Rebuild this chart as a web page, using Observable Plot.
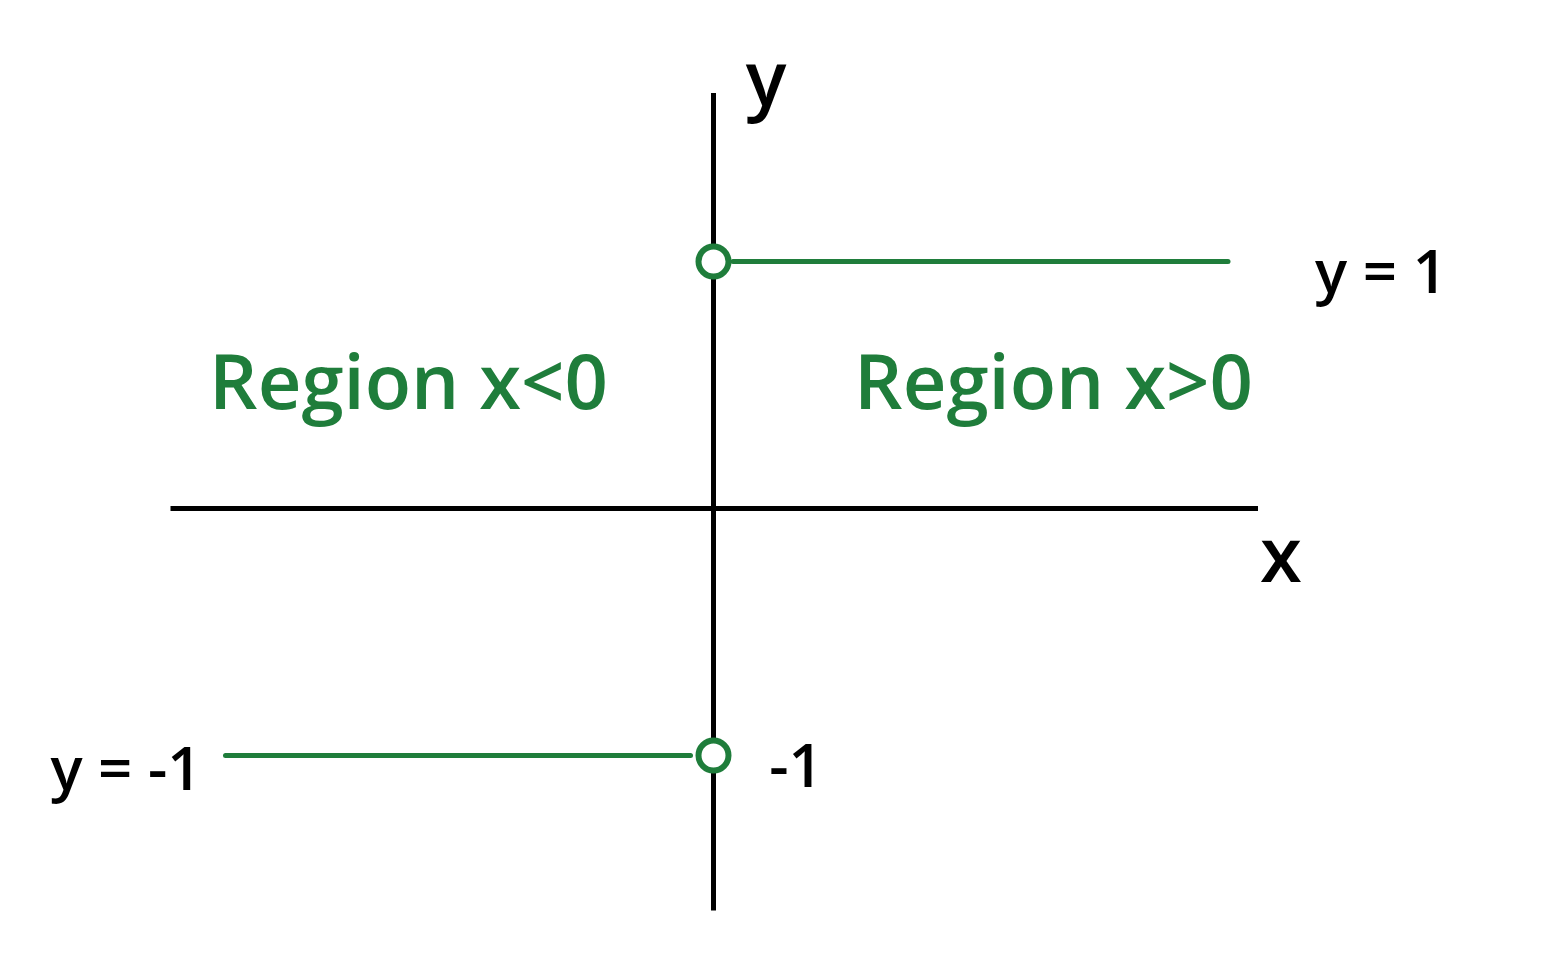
<!DOCTYPE html>
<html>
<head>
<meta charset="utf-8">
<script src="https://cdn.jsdelivr.net/npm/d3@7"></script>
<script src="https://cdn.jsdelivr.net/npm/@observablehq/plot@0.6"></script>
<style>
  body { margin: 0; background: #fff; }
  #chart svg { display: block; }
</style>
</head>
<body>
<div id="chart"></div>
<script>
// funcion signo: -1 para x<0, 1 para x>0, abierta en x=0
const stepLevels = [1, -1]
const stepFrom = [0.08, -1.95]
const stepTo = [2.06, -0.09]
const openX = [0, 0]
const openY = [1, -1]

// extremos de los ejes dibujados
const xAxisFrom = -2.17, xAxisTo = 2.18
const yAxisFrom = -1.63, yAxisTo = 1.68

// textos del boceto
const axisNames = ["y", "x"]
const axisNameX = [0.21, 2.27]
const axisNameY = [1.73, -0.2]
const valueText = ["y = 1", "y = -1", "-1"]
const valueX = [2.67, -2.35, 0.33]
const valueY = [0.95, -1.06, -1.05]
const greenText = ["Region x<0", "Region x>0"]
const greenX = [-1.22, 1.36]
const greenY = [0.5, 0.5]

const green = "#1f7d3b"

const steps = stepLevels.map((v, i) => ({y: v, x1: stepFrom[i], x2: stepTo[i]}))
const holes = openX.map((x, i) => ({x, y: openY[i]}))
const names = axisNames.map((t, i) => ({t, x: axisNameX[i], y: axisNameY[i]}))
const values = valueText.map((t, i) => ({t, x: valueX[i], y: valueY[i]}))
const regions = greenText.map((t, i) => ({t, x: greenX[i], y: greenY[i]}))

let chart = Plot.plot({
  width: 1542,
  height: 957,
  margin: 0,
  x: {domain: [-713 / 250, 829 / 250], axis: null},
  y: {domain: [-449 / 247, 508 / 247], axis: null},
  style: {fontFamily: "'Open Sans', sans-serif", background: "#fff"},
  marks: [
    // ejes
    Plot.ruleY([0], {x1: xAxisFrom, x2: xAxisTo, stroke: "black", strokeWidth: 5}),
    Plot.ruleX([0], {y1: yAxisFrom, y2: yAxisTo, stroke: "black", strokeWidth: 5}),
    // tramos
    Plot.ruleY(steps, {y: "y", x1: "x1", x2: "x2", stroke: green, strokeWidth: 5, strokeLinecap: "round"}),
    Plot.dot(holes, {x: "x", y: "y", r: 15, stroke: green, strokeWidth: 6, fill: "white"}),
    // etiquetas
    Plot.text(names, {x: "x", y: "y", text: "t", fontSize: 76, fontWeight: 600, fill: "black"}),
    Plot.text(values, {x: "x", y: "y", text: "t", fontSize: 60, fontWeight: 600, fill: "black"}),
    Plot.text(regions, {x: "x", y: "y", text: "t", fontSize: 76, fontWeight: 600, fill: green})
  ]
})

d3.select('#chart').append(() => chart)
</script>
</body>
</html>
